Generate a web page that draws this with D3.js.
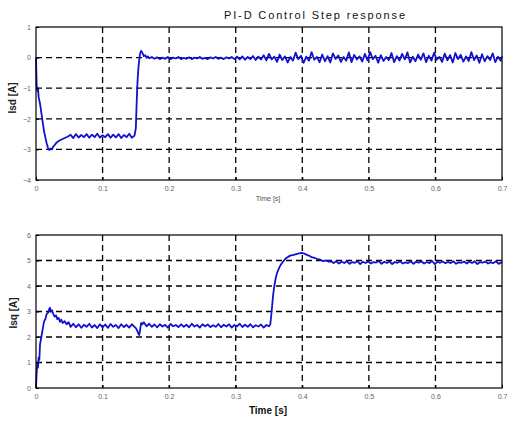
<!DOCTYPE html>
<html>
<head>
<meta charset="utf-8">
<script src="https://cdn.jsdelivr.net/npm/d3@7"></script>
<style>
  html, body { margin: 0; padding: 0; background: #fff; }
  svg { display: block; }
  text { font-family: "Liberation Sans", Arial, sans-serif; }
</style>
</head>
<body>
<svg id="chart" width="507" height="422"></svg>
<script>
// Time axis ticks shared by both panels (seconds)
const timeTicks = [0, 0.1, 0.2, 0.3, 0.4, 0.5, 0.6, 0.7];
const isdTicks = [-4, -3, -2, -1, 0, 1];
const isqTicks = [0, 1, 2, 3, 4, 5, 6];

// Direct-axis current Isd [A] : [time, value]
const isdPoints = [
  [0,0],[0.001,-0.9],[0.002,-1.1],[0.003,-1.0],[0.004,-1.3],[0.006,-1.5],[0.008,-1.8],[0.010,-2.1],
  [0.012,-2.4],[0.014,-2.6],[0.016,-2.8],[0.018,-2.95],[0.020,-3.02],[0.022,-2.97],[0.024,-3.0],
  [0.026,-2.9],[0.028,-2.86],[0.030,-2.8],[0.033,-2.74],[0.036,-2.7],[0.040,-2.66],[0.044,-2.62],[0.048,-2.58],
  [0.052,-2.52],[0.056,-2.63],[0.060,-2.5],[0.064,-2.61],[0.068,-2.53],[0.072,-2.6],[0.076,-2.5],[0.080,-2.62],
  [0.084,-2.52],[0.088,-2.6],[0.092,-2.49],[0.096,-2.61],[0.100,-2.54],[0.104,-2.6],[0.108,-2.5],[0.112,-2.62],
  [0.116,-2.52],[0.120,-2.61],[0.124,-2.5],[0.128,-2.63],[0.132,-2.53],[0.136,-2.6],[0.140,-2.49],[0.144,-2.62],
  [0.148,-2.55],
  [0.150,-2.3],[0.151,-1.6],[0.152,-1.0],[0.153,-0.6],[0.154,-0.3],[0.155,-0.1],[0.156,0.08],[0.157,0.18],
  [0.158,0.22],[0.160,0.15],[0.162,0.05],[0.164,0.08],[0.166,0.0],[0.168,0.04],[0.170,-0.02],
  [0.174,0.02],[0.178,-0.04],[0.182,0.01],[0.186,-0.05],[0.190,0.0],[0.194,-0.04],[0.198,0.02],[0.202,-0.05],
  [0.206,0.0],[0.210,-0.03],[0.214,0.02],[0.218,-0.05],[0.222,-0.01],[0.226,-0.04],[0.230,0.01],[0.234,-0.05],
  [0.238,0.0],[0.242,-0.03],[0.246,0.02],[0.250,-0.04],[0.254,-0.01],[0.258,-0.05],[0.262,0.01],[0.266,-0.03],
  [0.270,0.02],[0.274,-0.04],[0.278,0.0],[0.282,-0.05],[0.286,0.01],[0.290,-0.03],[0.294,0.02],[0.298,-0.05],
  [0.302,0.03],[0.306,-0.06],[0.310,0.04],[0.314,-0.07],[0.318,0.02],[0.322,-0.05],[0.326,0.05],[0.330,-0.08],
  [0.334,0.03],[0.338,-0.06],[0.342,0.08],[0.346,-0.09],
  [0.350,0.12],[0.354,-0.06],[0.358,0.03],[0.362,-0.14],[0.366,0.1],[0.370,-0.08],[0.374,0.04],[0.378,-0.16],
  [0.382,0.02],[0.386,-0.1],[0.390,0.16],[0.394,-0.05],[0.398,0.06],[0.402,-0.17],[0.406,0.03],[0.410,-0.1],
  [0.414,0.18],[0.418,-0.07],[0.422,0.02],[0.426,-0.15],[0.430,0.1],[0.434,-0.12],[0.438,0.05],[0.442,-0.16],
  [0.446,0.14],[0.450,-0.04],[0.454,0.07],[0.458,-0.14],[0.462,0.02],[0.466,-0.1],[0.470,0.17],[0.474,-0.15],
  [0.478,0.09],[0.482,-0.06],[0.486,0.04],[0.490,-0.13],[0.494,0.12],[0.498,-0.09],[0.502,0.18],[0.506,-0.05],
  [0.510,0.06],[0.514,-0.17],[0.518,0.08],[0.522,-0.11],[0.526,0.02],[0.530,-0.08],[0.534,0.15],[0.538,-0.15],
  [0.542,0.05],[0.546,-0.1],[0.550,0.12],[0.554,-0.06],[0.558,0.17],[0.562,-0.16],[0.566,0.03],[0.570,-0.12],
  [0.574,0.1],[0.578,-0.07],[0.582,0.14],[0.586,-0.15],[0.590,0.06],[0.594,-0.1],[0.598,0.16],[0.602,-0.07],
  [0.606,0.02],[0.610,-0.14],[0.614,0.13],[0.618,-0.09],[0.622,0.08],[0.626,-0.16],[0.630,0.15],[0.634,-0.05],
  [0.638,0.09],[0.642,-0.13],[0.646,0.04],[0.650,-0.11],[0.654,0.18],[0.658,-0.08],[0.662,0.07],[0.666,-0.17],
  [0.670,0.11],[0.674,-0.12],[0.678,0.05],[0.682,-0.08],[0.686,0.14],[0.690,-0.15],[0.694,0.03],[0.698,-0.1],
  [0.700,0.04]
];

// Quadrature-axis current Isq [A] : [time, value]
const isqPoints = [
  [0,0],[0.001,0.6],[0.002,1.0],[0.003,0.8],[0.004,1.2],[0.005,1.1],[0.006,1.7],[0.008,2.0],[0.010,2.3],
  [0.012,2.6],[0.014,2.7],[0.016,2.9],[0.018,2.95],[0.020,3.1],[0.021,3.15],[0.022,3.0],[0.024,3.05],
  [0.026,2.9],[0.028,2.8],[0.030,2.85],[0.032,2.7],[0.034,2.75],[0.036,2.6],[0.038,2.68],[0.040,2.55],
  [0.043,2.62],[0.046,2.5],[0.049,2.58],
  [0.052,2.4],[0.056,2.52],[0.060,2.38],[0.064,2.5],[0.068,2.36],[0.072,2.48],[0.076,2.4],[0.080,2.52],
  [0.084,2.37],[0.088,2.47],[0.092,2.35],[0.096,2.5],[0.100,2.38],[0.104,2.49],[0.108,2.36],[0.112,2.51],
  [0.116,2.4],[0.120,2.47],[0.124,2.35],[0.128,2.5],[0.132,2.39],[0.136,2.48],[0.140,2.37],[0.144,2.5],
  [0.148,2.4],
  [0.150,2.35],[0.152,2.25],[0.154,2.12],[0.155,2.08],[0.156,2.2],[0.157,2.4],[0.158,2.55],[0.160,2.5],[0.162,2.58],
  [0.166,2.42],[0.170,2.52],[0.174,2.4],[0.178,2.49],[0.182,2.38],[0.186,2.5],[0.190,2.41],[0.194,2.48],
  [0.198,2.37],[0.202,2.51],[0.206,2.42],[0.210,2.47],[0.214,2.39],[0.218,2.5],[0.222,2.4],[0.226,2.48],
  [0.230,2.38],[0.234,2.52],[0.238,2.41],[0.242,2.47],[0.246,2.37],[0.250,2.5],[0.254,2.42],[0.258,2.49],
  [0.262,2.39],[0.266,2.46],[0.270,2.4],[0.274,2.51],[0.278,2.38],[0.282,2.48],[0.286,2.41],[0.290,2.5],
  [0.294,2.37],[0.298,2.47],[0.302,2.42],[0.306,2.52],[0.310,2.39],[0.314,2.48],[0.318,2.4],[0.322,2.5],
  [0.326,2.38],[0.330,2.46],[0.334,2.41],[0.338,2.49],[0.342,2.37],[0.346,2.47],[0.350,2.42],
  [0.352,2.5],[0.354,3.0],[0.356,3.6],[0.358,4.0],[0.360,4.3],[0.362,4.5],[0.365,4.7],[0.368,4.85],
  [0.371,4.95],[0.375,5.08],[0.379,5.15],[0.383,5.2],[0.387,5.22],[0.391,5.25],[0.395,5.28],[0.399,5.3],
  [0.403,5.27],[0.407,5.22],[0.411,5.18],[0.415,5.12],[0.419,5.1],[0.423,5.05],[0.427,5.03],[0.431,4.98],
  [0.435,5.0],[0.439,4.96],[0.443,4.97],
  [0.447,4.9],[0.451,4.97],[0.455,4.88],[0.459,4.95],[0.463,4.9],[0.467,4.98],[0.471,4.87],[0.475,4.94],
  [0.479,4.91],[0.483,4.97],[0.487,4.86],[0.491,4.95],[0.495,4.9],[0.499,4.96],[0.503,4.88],[0.507,4.94],
  [0.511,4.92],[0.515,4.98],[0.519,4.87],[0.523,4.95],[0.527,4.9],[0.531,4.96],[0.535,4.86],[0.539,4.94],
  [0.543,4.91],[0.547,4.97],[0.551,4.88],[0.555,4.93],[0.559,4.9],[0.563,4.97],[0.567,4.87],[0.571,4.95],
  [0.575,4.92],[0.579,4.96],[0.583,4.88],[0.587,4.94],[0.591,4.9],[0.595,4.98],[0.599,4.86],[0.603,4.95],
  [0.607,4.91],[0.611,4.96],[0.615,4.89],[0.619,4.94],[0.623,4.9],[0.627,4.97],[0.631,4.87],[0.635,4.93],
  [0.639,4.91],[0.643,4.96],[0.647,4.88],[0.651,4.95],[0.655,4.9],[0.659,4.97],[0.663,4.86],[0.667,4.94],
  [0.671,4.92],[0.675,4.96],[0.679,4.88],[0.683,4.93],[0.687,4.9],[0.691,4.97],[0.695,4.87],[0.700,4.93]
];

const svg = d3.select("#chart");
const lineColor = "#1212cc";

const x = d3.scaleLinear().domain([0, 0.7]).range([36, 502]);

function panel(opts) {
  const y = d3.scaleLinear().domain(opts.yDomain).range([opts.bottom, opts.top]);
  const g = svg.append("g");

  // dashed grid at the interior ticks
  g.append("g").selectAll("line")
    .data(timeTicks.filter(t => t > 0 && t < 0.7))
    .join("line")
    .attr("x1", d => x(d)).attr("x2", d => x(d))
    .attr("y1", opts.top).attr("y2", opts.bottom)
    .attr("stroke", "#000").attr("stroke-width", 1.3).attr("stroke-dasharray", "6,4");
  g.append("g").selectAll("line")
    .data(opts.yTicks.filter(v => v > opts.yDomain[0] && v < opts.yDomain[1]))
    .join("line")
    .attr("x1", 36).attr("x2", 502)
    .attr("y1", d => y(d)).attr("y2", d => y(d))
    .attr("stroke", "#000").attr("stroke-width", 1.3).attr("stroke-dasharray", "6,4");

  // signal trace
  const line = d3.line().x(d => x(d[0])).y(d => y(d[1]));
  g.append("path")
    .datum(opts.points)
    .attr("d", line)
    .attr("fill", "none")
    .attr("stroke", lineColor)
    .attr("stroke-width", 1.8)
    .attr("stroke-linejoin", "round");

  // axes with inward ticks
  const xAxis = d3.axisBottom(x).tickValues(timeTicks).tickSize(-3).tickPadding(6)
    .tickFormat(d => d === 0 ? "0" : d3.format(".1f")(d));
  const gx = g.append("g").attr("transform", `translate(0,${opts.bottom})`).call(xAxis);
  const yAxis = d3.axisLeft(y).tickValues(opts.yTicks).tickSize(-3).tickPadding(5).tickFormat(d3.format("d"));
  const gy = g.append("g").attr("transform", "translate(36,0)").call(yAxis);
  [gx, gy].forEach(a => {
    a.select(".domain").remove();
    a.selectAll(".tick line").attr("stroke", "#000");
    a.selectAll(".tick text").attr("fill", "#666").style("font-size", "7px")
      .style("font-family", "'Liberation Sans', Arial, sans-serif");
  });

  // frame
  g.append("rect")
    .attr("x", 36).attr("y", opts.top)
    .attr("width", 466).attr("height", opts.bottom - opts.top)
    .attr("fill", "none").attr("stroke", "#000").attr("stroke-width", 1.2);

  return y;
}

panel({ top: 27, bottom: 180, yDomain: [-4, 1], yTicks: isdTicks, points: isdPoints });
panel({ top: 235, bottom: 388, yDomain: [0, 6], yTicks: isqTicks, points: isqPoints });

// title
svg.append("text")
  .attr("x", 224).attr("y", 19)
  .attr("textLength", 181).attr("lengthAdjust", "spacing")
  .style("font-size", "11px").attr("fill", "#111")
  .text("PI-D Control Step response");

// axis labels
svg.append("text")
  .attr("x", 268).attr("y", 201).attr("text-anchor", "middle")
  .style("font-size", "7px").attr("fill", "#555")
  .text("Time [s]");
svg.append("text")
  .attr("x", 268).attr("y", 414).attr("text-anchor", "middle")
  .style("font-size", "10px").style("font-weight", "bold").attr("fill", "#111")
  .text("Time [s]");
svg.append("text")
  .attr("transform", "translate(16,98) rotate(-90)").attr("text-anchor", "middle")
  .style("font-size", "10px").style("font-weight", "bold").attr("fill", "#222")
  .text("Isd [A]");
svg.append("text")
  .attr("transform", "translate(17,313) rotate(-90)").attr("text-anchor", "middle")
  .style("font-size", "10px").style("font-weight", "bold").attr("fill", "#222")
  .text("Isq [A]");
</script>
</body>
</html>
